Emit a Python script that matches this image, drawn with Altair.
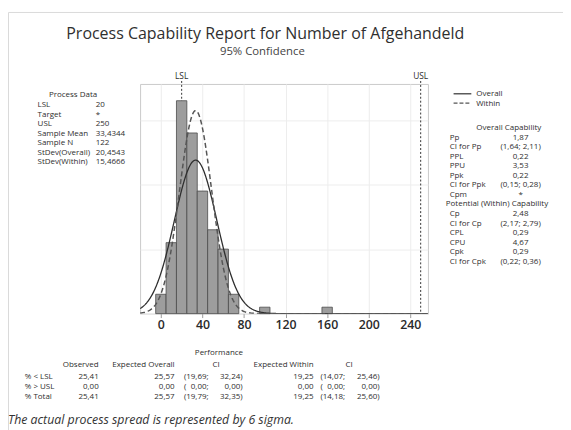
import altair as alt
import numpy as np
import pandas as pd

# ---------------- data ----------------
bin_starts = [-5, 5, 15, 25, 35, 45, 55, 65, 95, 155]
bin_width = 10
counts = [3, 11, 33, 28, 19, 13, 10, 3, 1, 1]
spec_names = ["LSL", "USL"]
spec_values = [20, 250]
sample_mean = 33.4344
sample_n = 122
sd_overall = 20.4543
sd_within = 15.4666
x_ticks = [0, 40, 80, 120, 160, 200, 240]

process_labels = ["LSL", "Target", "USL", "Sample Mean", "Sample N", "StDev(Overall)", "StDev(Within)"]
process_values = ["20", "*", "250", "33,4344", "122", "20,4543", "15,4666"]
overall_labels = ["Pp", "CI for Pp", "PPL", "PPU", "Ppk", "CI for Ppk", "Cpm"]
overall_values = ["1,87", "(1,64; 2,11)", "0,22", "3,53", "0,22", "(0,15; 0,28)", "*"]
within_labels = ["Cp", "CI for Cp", "CPL", "CPU", "Cpk", "CI for Cpk"]
within_values = ["2,48", "(2,17; 2,79)", "0,29", "4,67", "0,29", "(0,22; 0,36)"]
perf_rows = ["% < LSL", "% > USL", "% Total"]
observed = ["25,41", "0,00", "25,41"]
exp_overall = ["25,57", "0,00", "25,57"]
ci_overall_lo = ["19,69;", "0,00;", "19,79;"]
ci_overall_hi = ["32,24)", "0,00)", "32,35)"]
exp_within = ["19,25", "0,00", "19,25"]
ci_within_lo = ["14,07;", "0,00;", "14,18;"]
ci_within_hi = ["25,46)", "0,00)", "25,60)"]

# ---------------- layout ----------------
FONT = "Open Sans"
TXT = "#2e2e2e"
SMALL = 8.1
PLOT_W, PLOT_H = 292, 233
PAD_L, PAD_T = 134, 74          # plot origin at page (142, 82)
TOTAL_W, TOTAL_H = 563, 422
X_DOMAIN = [-20, 257]
Y_DOMAIN = [0, 35.6]


def px(x):
    return x - 8 - PAD_L


def py(y):
    return y - 8 - PAD_T


one_row = alt.Data(values=[{"a": 0}])


def text(lines, x, y, align="left", size=SMALL, weight="normal", style="normal",
         color=TXT):
    return alt.Chart(one_row).mark_text(
        text=lines, align=align, baseline="alphabetic", fontSize=size,
        fontWeight=weight, fontStyle=style, color=color, font=FONT
    ).encode(x=alt.value(px(x)), y=alt.value(py(y)))


def column(lines, x, y0, step, align="left"):
    """one text mark per line so that rows stay separate"""
    return [text(s, x, y0 + i * step, align=align) for i, s in enumerate(lines)]


# histogram table
hist = pd.DataFrame({
    "start": bin_starts,
    "end": [b + bin_width for b in bin_starts],
    "count": counts,
})

# fitted normal curves from the stated mean / standard deviations
xs = np.arange(X_DOMAIN[0], X_DOMAIN[1] + 0.5, 0.5)


def normal_counts(sd):
    return sample_n * bin_width * np.exp(-0.5 * ((xs - sample_mean) / sd) ** 2) / (sd * np.sqrt(2 * np.pi))


curves = pd.concat([
    pd.DataFrame({"x": xs, "y": normal_counts(sd_overall), "fit": "Overall"}),
    pd.DataFrame({"x": xs, "y": normal_counts(sd_within), "fit": "Within"}),
])
specs = pd.DataFrame({"name": spec_names, "value": spec_values})

xscale = alt.Scale(domain=X_DOMAIN, nice=False, zero=False)
yscale = alt.Scale(domain=Y_DOMAIN, nice=False, zero=True)

spec_rules = alt.Chart(specs).mark_rule(
    color="#333333", strokeWidth=1, strokeDash=[2, 2]
).encode(x=alt.X("value:Q", scale=xscale,
                 axis=alt.Axis(values=x_ticks, title=None, labelFontSize=12.5, labelColor="#2a2a2a",
                               labelFont=FONT, labelFontWeight=600, tickColor="#9a9a9a", tickSize=4,
                               domain=False, grid=True, gridColor="#ededed", labelPadding=1)),
         y=alt.value(-3), y2=alt.value(PLOT_H))

bars = alt.Chart(hist).mark_rect(
    fill="#9d9d9d", stroke="#4a4a4a", strokeWidth=0.8
).encode(
    x=alt.X("start:Q", scale=xscale),
    x2="end:Q",
    y=alt.Y("count:Q", scale=yscale,
            axis=alt.Axis(values=list(range(0, 36, 5)), labels=False, ticks=False, domain=False,
                          grid=True, gridColor="#ededed", title=None)),
    y2=alt.datum(0),
)

overall_line = alt.Chart(curves).transform_filter(alt.datum.fit == "Overall").mark_line(
    color="#2e2e2e", strokeWidth=1.3, clip=True
).encode(x=alt.X("x:Q", scale=xscale), y=alt.Y("y:Q", scale=yscale))

within_line = alt.Chart(curves).transform_filter(alt.datum.fit == "Within").mark_line(
    color="#555555", strokeWidth=1.5, strokeDash=[5, 3], clip=True
).encode(x=alt.X("x:Q", scale=xscale), y=alt.Y("y:Q", scale=yscale))

spec_text = alt.Chart(specs).mark_text(
    baseline="alphabetic", fontSize=8.5, font=FONT, color=TXT
).encode(x=alt.X("value:Q", scale=xscale), y=alt.value(-5), text="name:N")

# outer light frame
frame = alt.Chart(one_row).mark_rect(fill=None, stroke="#d9d9d9", strokeWidth=1).encode(
    x=alt.value(px(8.5)), x2=alt.value(px(700)), y=alt.value(py(9.5)), y2=alt.value(py(700))
)

layers = [frame, spec_rules, bars, overall_line, within_line, spec_text]

# title
layers.append(text("Process Capability Report for Number of Afgehandeld", 269, 36.5,
                   align="center", size=16.2, color="#2f2f2f"))
layers.append(text("95% Confidence", 266, 53, align="center", size=11.5, color="#444444"))

# process data
layers.append(text("Process Data", 74, 95.5, align="center"))
layers += column(process_labels, 38, 105.5, 9.65)
layers += column(process_values, 97, 105.5, 9.65)

# legend
layers.append(alt.Chart(one_row).mark_rule(color="#2e2e2e", strokeWidth=1.2).encode(
    x=alt.value(px(460)), x2=alt.value(px(478)), y=alt.value(py(92))))
layers.append(alt.Chart(one_row).mark_rule(color="#555555", strokeWidth=1.2, strokeDash=[4, 2]).encode(
    x=alt.value(px(460)), x2=alt.value(px(478)), y=alt.value(py(101.5))))
layers.append(text("Overall", 483, 94.5))
layers.append(text("Within", 483, 104.5))

# overall capability
layers.append(text("Overall Capability", 516, 128.5, align="center"))
layers += column(overall_labels, 456, 138.5, 9.65)
layers += column(overall_values, 528, 138.5, 9.65, align="center")
layers.append(text("Potential (Within) Capability", 504, 206, align="center"))
layers += column(within_labels, 456, 216, 9.7)
layers += column(within_values, 528, 216, 9.7, align="center")

# performance table
ROW0 = 381
LH = 10.4
layers.append(text("Performance", 222, 357, align="center"))
layers.append(text("Observed", 100, 369, align="right"))
layers.append(text("Expected Overall", 177, 369, align="right"))
layers.append(text("CI", 219, 369, align="center"))
layers.append(text("Expected Within", 318, 369, align="right"))
layers.append(text("CI", 354, 369, align="center"))
layers += column(perf_rows, 25, ROW0, LH)
layers += column(observed, 100, ROW0, LH, align="right")
layers += column(exp_overall, 177, ROW0, LH, align="right")
layers += column(["("] * 3, 186.5, ROW0, LH)
layers += column(ci_overall_lo, 211.5, ROW0, LH, align="right")
layers += column(ci_overall_hi, 246, ROW0, LH, align="right")
layers += column(exp_within, 318, ROW0, LH, align="right")
layers += column(["("] * 3, 325, ROW0, LH)
layers += column(ci_within_lo, 350, ROW0, LH, align="right")
layers += column(ci_within_hi, 385, ROW0, LH, align="right")

# footnote
layers.append(text("The actual process spread is represented by 6 sigma.", 8, 426.5,
                   size=12.5, style="italic", color="#333333"))

chart = alt.layer(*layers).properties(
    width=PLOT_W, height=PLOT_H,
    padding={"left": PAD_L, "top": PAD_T, "right": TOTAL_W - PAD_L - PLOT_W,
             "bottom": TOTAL_H - PAD_T - PLOT_H},
    autosize=alt.AutoSizeParams(type="none"),
    background="white",
).configure_view(stroke="#c9c9c9", strokeWidth=1).configure_text(font=FONT)

chart.save("out.html", embed_options={"renderer": "svg", "actions": False})
